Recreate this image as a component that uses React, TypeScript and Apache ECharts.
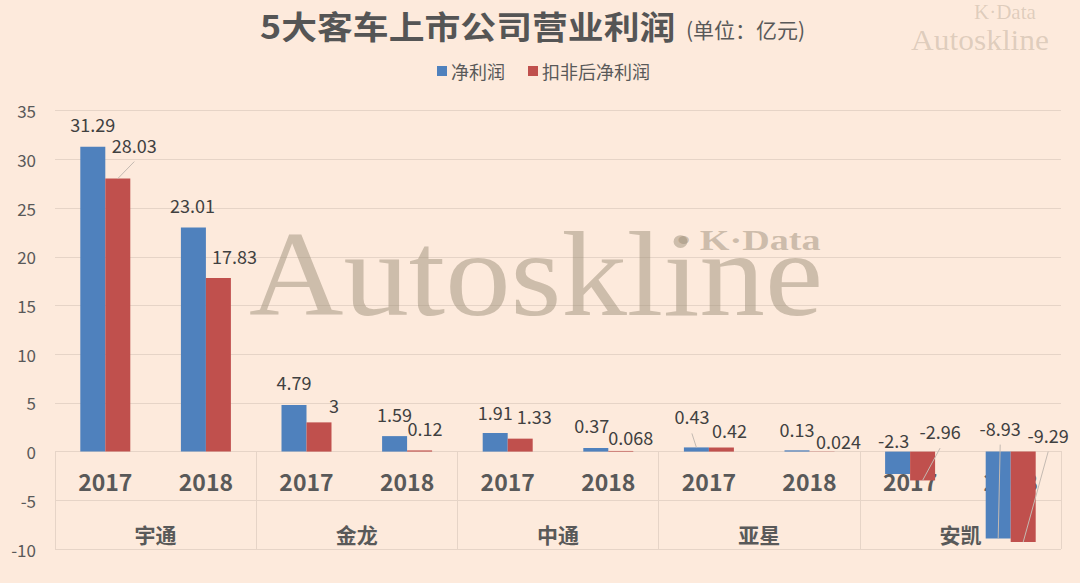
import { useEffect, useRef } from "react";
import * as echarts from "echarts";

// ---------- data ----------
const companies = ["宇通", "金龙", "中通", "亚星", "安凯"];
const years = ["2017", "2018"];
const seriesNames = ["净利润", "扣非后净利润"];
const netProfit = [31.29, 23.01, 4.79, 1.59, 1.91, 0.37, 0.43, 0.13, -2.3, -8.93];
const adjProfit = [28.03, 17.83, 3, 0.12, 1.33, 0.068, 0.42, 0.024, -2.96, -9.29];
const yMin = -10;
const yMax = 35;
const yStep = 5;
const titleText = "5大客车上市公司营业利润";
const unitText = "(单位：亿元)";

// ---------- layout / style ----------
const BG = "#fdeadc";
const GRID_COLOR = "#e6d4c7";
const TEXT = "#595959";
const LABEL = "#404040";
const BLUE = "#4f81bd";
const RED = "#c0504d";
const FONT = '"Noto Sans CJK SC", "Noto Sans", sans-serif';
const SERIF = '"Liberation Serif", "DejaVu Serif", serif';
const WM = "rgba(158,143,122,0.5)";
const WM_LIGHT = "rgba(158,143,122,0.32)";
const BAR_W = 25;

// label nudges (px) relative to the default "top" label position
const netShift = [[0, -8.5], [-1, -8.5], [0, -9], [0, -8.5], [0, -7], [-4, -9], [-4.5, -17], [0, -7], [-4, 2.5], [2, -10]];
const adjShift = [[16.5, -20], [16, -8], [15, -3], [5.5, -8.5], [14, -9], [10, 0], [8, -3.5], [16.5, 4], [17.5, -6.5], [25, -3]];
const netLeaders = [6, 9];
const adjLeaders = [0, 8, 9];

const categories = companies.flatMap(() => years);

export default function App() {
  const ref = useRef<HTMLDivElement>(null);
  useEffect(() => {
    if (!ref.current) return;
    const chart = echarts.init(ref.current, undefined, { renderer: "svg" });

    const mkData = (vals: number[], shifts: number[][]) =>
      vals.map((v, i) => ({ value: v, label: { offset: shifts[i] } }));

    const leaderData: number[][] = [];
    netLeaders.forEach((i) => leaderData.push([i, netProfit[i], -1, netShift[i][0], netShift[i][1]]));
    adjLeaders.forEach((i) => leaderData.push([i, adjProfit[i], 1, adjShift[i][0], adjShift[i][1]]));

    const labelCfg = {
      show: true,
      position: "top",
      distance: 5,
      fontSize: 18,
      color: LABEL,
      fontFamily: FONT,
    };

    const option: any = {
      animation: false,
      backgroundColor: BG,
      textStyle: { fontFamily: FONT },
      legend: {
        data: seriesNames,
        left: 437,
        top: 62,
        padding: 0,
        icon: "rect",
        itemWidth: 10,
        itemHeight: 10,
        itemGap: 23,
        textStyle: { fontSize: 18, color: TEXT, fontFamily: FONT, padding: [0, 0, 0, -1] },
      },
      grid: { left: 55, right: 19, top: 110.7, bottom: 34, containLabel: false },
      xAxis: [
        {
          type: "category",
          data: categories,
          position: "bottom",
          axisLine: { show: false, onZero: false },
          axisTick: { show: false },
          splitLine: { show: false },
          axisLabel: {
            inside: true,
            margin: 68,
            verticalAlign: "middle",
            interval: 0,
            fontSize: 23,
            fontWeight: "bold",
            color: TEXT,
            fontFamily: FONT,
          },
        },
        {
          type: "category",
          data: companies,
          position: "bottom",
          axisLine: { show: false, onZero: false },
          axisTick: { show: true, inside: true, length: 98, lineStyle: { color: GRID_COLOR, width: 1 } },
          splitLine: { show: false },
          axisLabel: {
            inside: true,
            margin: 15,
            verticalAlign: "middle",
            interval: 0,
            fontSize: 21,
            fontWeight: "bold",
            color: TEXT,
            fontFamily: FONT,
          },
        },
      ],
      yAxis: {
        type: "value",
        min: yMin,
        max: yMax,
        interval: yStep,
        axisLine: { show: false },
        axisTick: { show: false },
        splitLine: { lineStyle: { color: GRID_COLOR, width: 1 } },
        axisLabel: { fontSize: 17, color: TEXT, margin: 19, fontFamily: FONT },
      },
      series: [
        {
          name: seriesNames[0],
          type: "bar",
          xAxisIndex: 0,
          barWidth: BAR_W,
          barGap: "0%",
          itemStyle: { color: BLUE },
          label: labelCfg,
          data: mkData(netProfit, netShift),
          z: 3,
        },
        {
          name: seriesNames[1],
          type: "bar",
          xAxisIndex: 0,
          barWidth: BAR_W,
          barGap: "0%",
          itemStyle: { color: RED },
          label: labelCfg,
          data: mkData(adjProfit, adjShift),
          z: 3,
        },
        {
          type: "custom",
          name: "leaders",
          xAxisIndex: 0,
          yAxisIndex: 0,
          z: 4,
          silent: true,
          data: leaderData,
          renderItem: (_params: any, api: any) => {
            const cat = api.value(0);
            const val = api.value(1);
            const side = api.value(2);
            const dx = api.value(3);
            const dy = api.value(4);
            const end = api.coord([cat, val]);
            const zero = api.coord([cat, 0]);
            const bx = end[0] + (side * BAR_W) / 2;
            const top = Math.min(end[1], zero[1]);
            const lx = bx + dx;
            const ly = top - 14 + dy;
            return {
              type: "line",
              shape: { x1: lx, y1: ly + 17, x2: bx, y2: end[1] },
              style: { stroke: "#c4bab2", lineWidth: 1 },
            };
          },
        },
      ],
      graphic: [
        {
          type: "text",
          x: 260,
          y: 25,
          scaleX: 1.12,
          z: 5,
          style: {
            text: titleText,
            font: `bold 32px ${FONT}`,
            fill: "#555555",
            verticalAlign: "middle",
          },
        },
        {
          type: "text",
          x: 686,
          y: 29,
          z: 5,
          style: {
            text: unitText,
            font: `21px ${FONT}`,
            fill: TEXT,
            verticalAlign: "middle",
          },
        },
        {
          type: "text",
          x: 974,
          y: 1.5,
          z: 1,
          style: {
            text: "K·Data",
            font: `21px ${SERIF}`,
            fill: WM_LIGHT,
            verticalAlign: "top",
          },
        },
        {
          type: "text",
          x: 911,
          y: 25.5,
          scaleX: 1.085,
          z: 1,
          style: {
            text: "Autoskline",
            font: `29px ${SERIF}`,
            fill: WM_LIGHT,
            verticalAlign: "top",
          },
        },
        {
          type: "text",
          x: 249,
          y: 214,
          scaleX: 1.09,
          z: 1,
          style: {
            text: "Autoskline",
            font: `120px ${SERIF}`,
            fill: WM,
            verticalAlign: "top",
          },
        },
        {
          type: "text",
          x: 677,
          y: 224,
          scaleX: 1.27,
          z: 1,
          style: {
            text: "• K·Data",
            font: `bold 30px ${SERIF}`,
            fill: WM,
            verticalAlign: "top",
          },
        },
      ],
    };

    chart.setOption(option);
    return () => chart.dispose();
  }, []);

  return (
    <div
      ref={ref}
      style={{ position: "fixed", left: 0, top: 0, width: 1080, height: 583 }}
    />
  );
}
